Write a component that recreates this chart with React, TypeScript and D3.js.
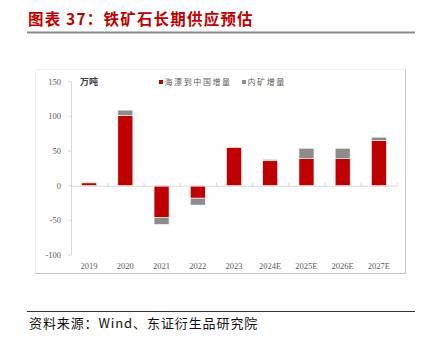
import React from "react";
import * as d3 from "d3";

const categories = ["2019", "2020", "2021", "2022", "2023", "2024E", "2025E", "2026E", "2027E"];
const seaborneIncrease = [4, 101, -46, -18, 55, 36, 39, 39, 65];
const domesticIncrease = [0, 8, -10, -10, 0, 2, 15, 15, 5];
const yTicks = [150, 100, 50, 0, -50, -100];
const seriesNames = ["海漂到中国增量", "内矿增量"];
const title = "图表 37：铁矿石长期供应预估";
const source = "资料来源：Wind、东证衍生品研究院";
const unit = "万吨";

const RED = "#C00000";
const GRAY = "#8C8C8C";
const CJK = "'Noto Sans CJK SC', sans-serif";
const SERIF = "'Liberation Serif', 'DejaVu Serif', serif";

export default function App() {
  const x = d3.scaleBand<string>().domain(categories).range([71, 397]).paddingInner(0.585).paddingOuter(0.2925);
  const y = d3.scaleLinear().domain([-100, 150]).range([255, 81.7]);
  const y0 = y(0);

  const bars = categories.map((c, i) => ({ c, r: seaborneIncrease[i], g: domesticIncrease[i] }));

  const boundaries = d3.range(categories.length + 1).map((i) => 71 + i * x.step());

  return (
    <svg width={426} height={341} style={{ position: "absolute", left: 0, top: 0, background: "#fff" }}>
      {/* title */}
      <text x={28} y={25} fill={RED} fontFamily={CJK} fontWeight="bold" fontSize={15.5} letterSpacing={1.2}>
        {title}
      </text>
      <rect x={27} y={31.5} width={388} height={2} fill="#8a8a8a" />

      {/* frame */}
      <rect x={35.5} y={69.5} width={370} height={203.5} fill="none" stroke="#f0f0f0" />
      <line x1={405.5} x2={405.5} y1={69} y2={273.5} stroke="#c8c8c8" />
      <line x1={35} x2={406} y1={273.5} y2={273.5} stroke="#c8c8c8" />

      {/* y axis */}
      <line x1={71.5} x2={71.5} y1={y(150)} y2={y(-100)} stroke="#d9d9d9" />
      {yTicks.map((t) => (
        <g key={t}>
          <line x1={68} x2={71.5} y1={y(t)} y2={y(t)} stroke="#d9d9d9" />
          <text x={61} y={y(t)} dy="0.35em" textAnchor="end" fontFamily={SERIF} fontSize={8.5} fill="#595959">
            {t}
          </text>
        </g>
      ))}

      {/* bars */}
      {bars.map((b) => {
        const bx = x(b.c)!;
        const w = x.bandwidth();
        const rTop = y(Math.max(0, b.r));
        const rBot = y(Math.min(0, b.r));
        const total = b.r + b.g;
        const gTop = y(Math.max(b.r, total));
        const gBot = y(Math.min(b.r, total));
        return (
          <g key={b.c}>
            <rect x={bx} y={rTop} width={w} height={rBot - rTop} fill={RED} stroke="#fff" strokeWidth={0.6} />
            {b.g !== 0 && (
              <rect x={bx} y={gTop} width={w} height={gBot - gTop} fill={GRAY} stroke="#fff" strokeWidth={0.6} />
            )}
          </g>
        );
      })}

      {/* x axis */}
      <line x1={71} x2={397} y1={y0 + 0.5} y2={y0 + 0.5} stroke="#d9d9d9" />
      {boundaries.map((bx, i) => (
        <line key={i} x1={bx + 0.5} x2={bx + 0.5} y1={y0 - 3} y2={y0 + 0.5} stroke="#d9d9d9" />
      ))}
      {categories.map((c) => (
        <text key={c} x={x(c)! + x.bandwidth() / 2} y={266} dy="0.35em" textAnchor="middle" fontFamily={SERIF} fontSize={8.5} fill="#595959">
          {c}
        </text>
      ))}

      {/* unit */}
      <text x={80} y={82} dy="0.35em" fontFamily={CJK} fontWeight="bold" fontSize={9} fill="#404040">
        {unit}
      </text>

      {/* legend */}
      <rect x={159} y={80} width={4} height={4} fill={RED} />
      <text x={164.5} y={82} dy="0.35em" fontFamily={CJK} fontSize={8} letterSpacing={1.6} fill="#595959">
        {seriesNames[0]}
      </text>
      <rect x={242} y={80} width={4} height={4} fill={GRAY} />
      <text x={247.5} y={82} dy="0.35em" fontFamily={CJK} fontSize={8} letterSpacing={1.6} fill="#595959">
        {seriesNames[1]}
      </text>

      {/* source */}
      <line x1={27} x2={415} y1={311.5} y2={311.5} stroke="#333" strokeWidth={1} />
      <text x={29} y={328} fontFamily={CJK} fontSize={13} letterSpacing={0.9} fill="#111">
        {source}
      </text>
    </svg>
  );
}
